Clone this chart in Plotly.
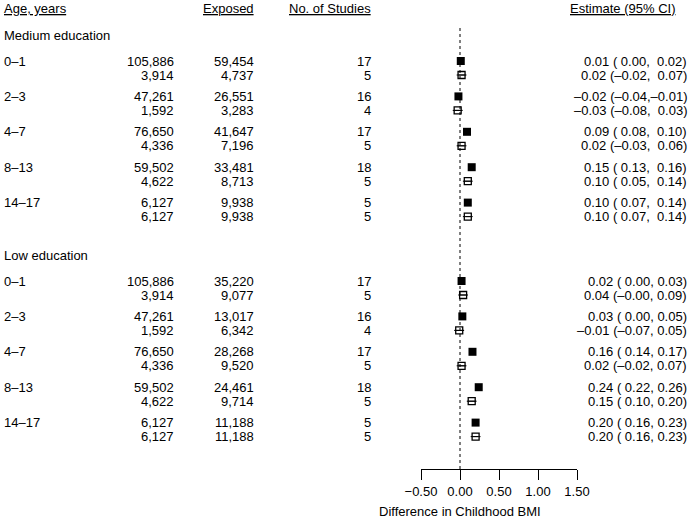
import plotly.graph_objects as go

# ---------------- data ----------------
ages = ["0–1", "2–3", "4–7", "8–13", "14–17"]
sections = ["Medium education", "Low education"]

# first numeric column (no header) -- two rows per age group
med_n = [[105886, 3914], [47261, 1592], [76650, 4336], [59502, 4622], [6127, 6127]]
low_n = [[105886, 3914], [47261, 1592], [76650, 4336], [59502, 4622], [6127, 6127]]

med_exposed = [[59454, 4737], [26551, 3283], [41647, 7196], [33481, 8713], [9938, 9938]]
low_exposed = [[35220, 9077], [13017, 6342], [28268, 9520], [24461, 9714], [11188, 11188]]

med_studies = [[17, 5], [16, 4], [17, 5], [18, 5], [5, 5]]
low_studies = [[17, 5], [16, 4], [17, 5], [18, 5], [5, 5]]

# estimates: [row1, row2] per age group, each (est, lo, hi)
med_est = [[0.01, 0.02], [-0.02, -0.03], [0.09, 0.02], [0.15, 0.10], [0.10, 0.10]]
med_lo = [[0.00, -0.02], [-0.04, -0.08], [0.08, -0.03], [0.13, 0.05], [0.07, 0.07]]
med_hi = [[0.02, 0.07], [-0.01, 0.03], [0.10, 0.06], [0.16, 0.14], [0.14, 0.14]]

low_est = [[0.02, 0.04], [0.03, -0.01], [0.16, 0.02], [0.24, 0.15], [0.20, 0.20]]
low_lo = [[0.00, -0.00], [0.00, -0.07], [0.14, -0.02], [0.22, 0.10], [0.16, 0.16]]
low_hi = [[0.03, 0.09], [0.05, 0.05], [0.17, 0.07], [0.26, 0.20], [0.23, 0.23]]

x_ticks = [-0.5, 0.0, 0.5, 1.0, 1.5]
x_title = "Difference in Childhood BMI"
headers = ["Age, years", "Exposed", "No. of Studies", "Estimate (95% CI)"]

# ---------------- layout helpers ----------------
W, H = 690, 518
FONT = "Liberation Sans, Arial, sans-serif"
FS = 13
PLOT_BOTTOM = 469  # pixel y of axis line
section_tops = [35, 255]
group_offset = 26
group_step = 35.4
line_step = 14


def px(x):
    return x / W


def fmt(v):
    return f"{v:.2f}".replace("-", "–")


def is_neg(v):
    return f"{v:.2f}".startswith("-")


def ci_text(e, l, h, pad_hi):
    lo_s = fmt(l) if is_neg(l) else " " + fmt(l)
    if is_neg(h):
        hi_s = "," + fmt(h)
    else:
        hi_s = (",  " if pad_hi else ", ") + fmt(h)
    return f"{fmt(e)} ({lo_s}{hi_s})"


annotations = []


def add_text(x, y, text, anchor):
    annotations.append(dict(
        x=px(x), y=y, xref="paper", yref="y", text=text, showarrow=False,
        xanchor=anchor, yanchor="middle", font=dict(family=FONT, size=FS, color="black")))


# headers
header_y = 8
add_text(2, header_y, "<u>" + headers[0] + "</u>", "left")
add_text(256, header_y, "<u>" + headers[1] + "</u>", "right")
add_text(373, header_y, "<u>" + headers[2] + "</u>", "right")
add_text(677, header_y, "<u>" + headers[3] + "</u>", "right")

fill_x, fill_y, fill_ep, fill_em = [], [], [], []
open_x, open_y, open_ep, open_em = [], [], [], []

data = [
    (med_n, med_exposed, med_studies, med_est, med_lo, med_hi),
    (low_n, low_exposed, low_studies, low_est, low_lo, low_hi),
]

for s, (ns, exs, sts, es, los, his) in enumerate(data):
    top = section_tops[s]
    add_text(2, top, sections[s], "left")
    pad_hi = any(is_neg(h) for pair in his for h in pair)
    for g, age in enumerate(ages):
        y0 = top + group_offset + g * group_step
        add_text(2, y0, age, "left")
        for r in range(2):
            y = y0 + r * line_step
            add_text(176, y, f"{ns[g][r]:,}", "right")
            add_text(256, y, f"{exs[g][r]:,}", "right")
            add_text(373, y, str(sts[g][r]), "right")
            e, l, h = es[g][r], los[g][r], his[g][r]
            add_text(689, y, ci_text(e, l, h, pad_hi), "right")
            if r == 0:
                fill_x.append(e); fill_y.append(y)
                fill_ep.append(h - e); fill_em.append(e - l)
            else:
                open_x.append(e); open_y.append(y)
                open_ep.append(h - e); open_em.append(e - l)

fig = go.Figure()
fig.add_trace(go.Scatter(
    x=fill_x, y=fill_y, mode="markers",
    marker=dict(symbol="square", size=8, color="black"),
    error_x=dict(type="data", symmetric=False, array=fill_ep, arrayminus=fill_em,
                 color="black", thickness=1, width=0),
    showlegend=False, hoverinfo="skip"))
fig.add_trace(go.Scatter(
    x=open_x, y=open_y, mode="markers",
    marker=dict(symbol="square-open", size=7, color="black", line=dict(width=1.3)),
    error_x=dict(type="data", symmetric=False, array=open_ep, arrayminus=open_em,
                 color="black", thickness=1, width=0),
    showlegend=False, hoverinfo="skip"))
fig.add_trace(go.Scatter(
    x=open_x, y=open_y, mode="markers",
    marker=dict(symbol="line-ew-open", size=7, color="black", line=dict(width=1, color="black")),
    showlegend=False, hoverinfo="skip"))

# axis title
annotations.append(dict(
    x=px(460), y=-(511 - PLOT_BOTTOM) / PLOT_BOTTOM, xref="paper", yref="paper",
    text=x_title, showarrow=False, xanchor="center", yanchor="middle",
    font=dict(family=FONT, size=FS, color="black")))

fig.add_shape(type="line", xref="x", yref="y", x0=0, x1=0, y0=28, y1=PLOT_BOTTOM,
              line=dict(color="black", width=1, dash="dot"), layer="below")

fig.update_layout(
    width=W, height=H,
    margin=dict(l=0, r=0, t=0, b=H - PLOT_BOTTOM, pad=0),
    paper_bgcolor="white", plot_bgcolor="white",
    annotations=annotations,
    xaxis=dict(domain=[px(421), px(577)], range=[-0.5, 1.5], showline=True,
               linecolor="black", linewidth=1, ticks="outside", ticklen=10,
               tickwidth=1, tickcolor="black", tickvals=x_ticks, tickformat=".2f",
               showgrid=False, zeroline=False, automargin=False,
               tickfont=dict(family=FONT, size=FS, color="black")),
    yaxis=dict(range=[PLOT_BOTTOM, 0], visible=False, showgrid=False,
               zeroline=False, automargin=False),
    font=dict(family=FONT, size=FS, color="black"),
)

fig.write_html("out.html", config={"displayModeBar": False},
               post_script="document.body.style.margin='0';document.body.style.overflow='hidden';")
